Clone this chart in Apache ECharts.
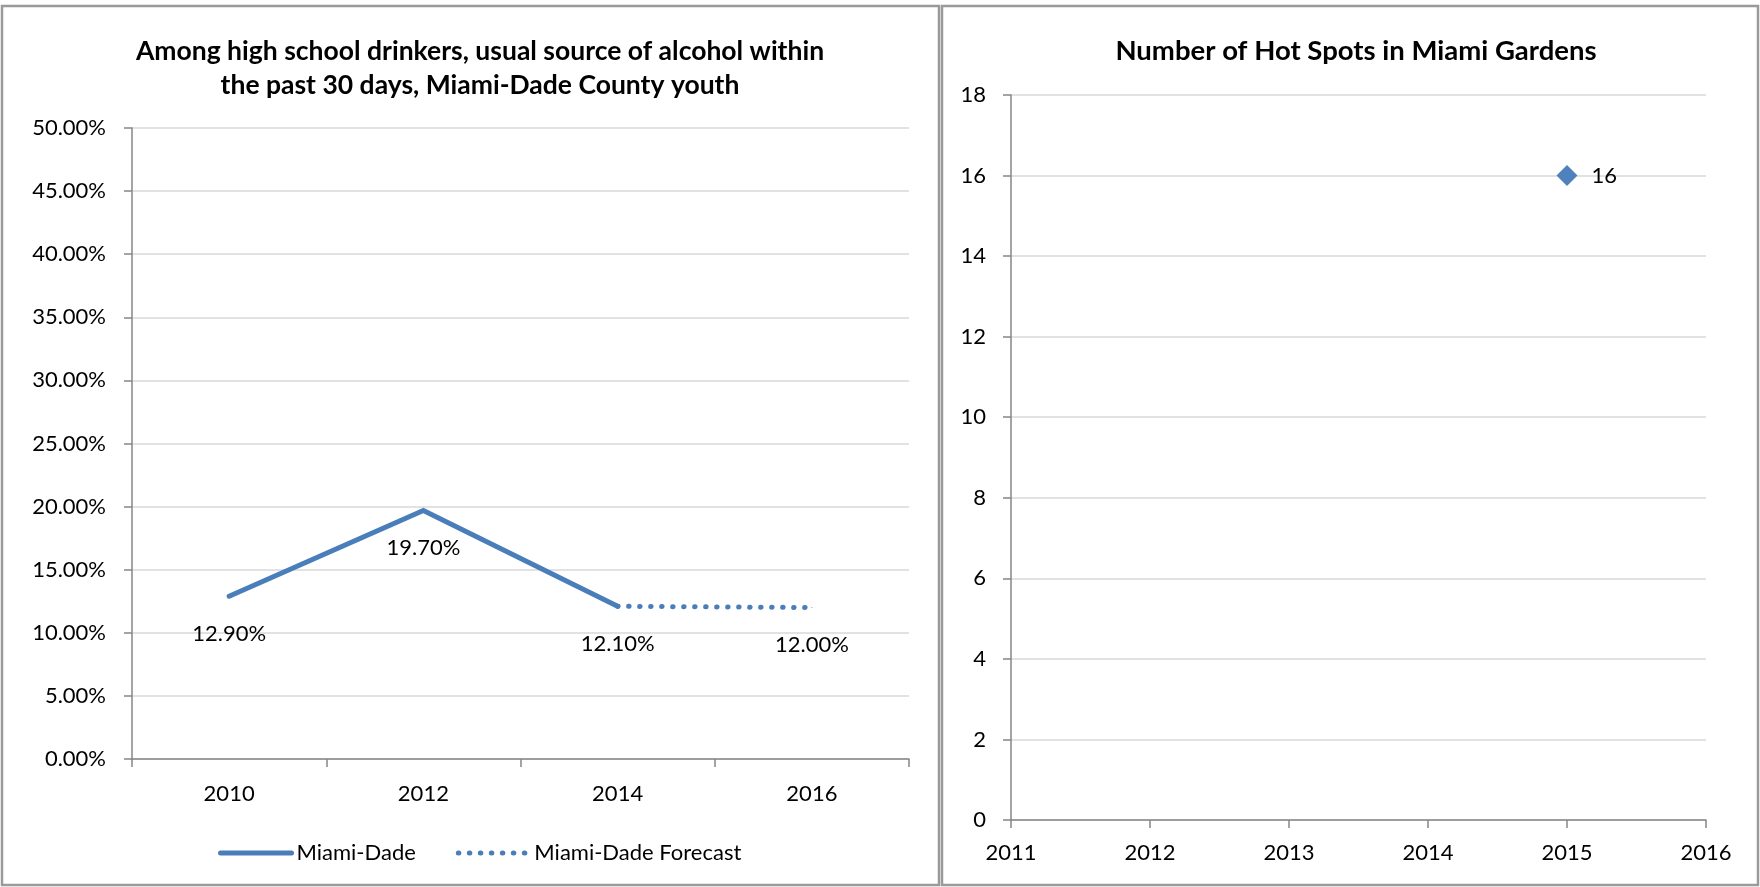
<!DOCTYPE html>
<html>
<head>
<meta charset="utf-8">
<title>Miami-Dade youth alcohol source and Miami Gardens hot spots</title>
<script src="https://cdn.jsdelivr.net/npm/echarts@6/dist/echarts.min.js"></script>
<style>
  html, body { margin: 0; padding: 0; background: #ffffff; }
  #chart { width: 1760px; height: 887px; }
</style>
</head>
<body>
<div id="chart"></div>
<script>
// Left panel: usual source of alcohol (percent of high school drinkers)
const surveyYears = ['2010', '2012', '2014', '2016'];
const miamiDade = [12.9, 19.7, 12.1, null];
const miamiDadeForecast = [null, null, 12.1, 12.0];

// Right panel: hot spot counts by year
const hotSpotYears = [2015];
const hotSpotCounts = [16];

const BLUE = '#4a7ebb';
const AXIS = '#868686';
const GRID = '#d9d9d9';
const FONT = 'Lato, "Liberation Sans", sans-serif';
const LINE_W = 5;

const pct = v => v.toFixed(2) + '%';

const chart = echarts.init(document.getElementById('chart'), null, { renderer: 'canvas' });

const forecastData = miamiDadeForecast.map((v, i) => ({
  value: v,
  // the first forecast point repeats the last actual value, which is already labelled
  label: { show: v !== null && i === miamiDadeForecast.length - 1 }
}));

const hotSpotData = hotSpotYears.map((y, i) => [y, hotSpotCounts[i]]);

chart.setOption({
  animation: false,
  textStyle: { fontFamily: FONT, color: '#000' },
  graphic: [
    { type: 'rect', shape: { x: 2, y: 6, width: 937, height: 879 },
      style: { fill: 'none', stroke: '#9a9a9a', lineWidth: 2.5 }, z: -10 },
    { type: 'rect', shape: { x: 942, y: 6, width: 816, height: 879 },
      style: { fill: 'none', stroke: '#9a9a9a', lineWidth: 2.5 }, z: -10 }
  ],
  title: [
    {
      text: 'Among high school drinkers, usual source of alcohol within\nthe past 30 days, Miami-Dade County youth',
      left: 475, top: 29, textAlign: 'center',
      textStyle: { fontFamily: FONT, fontSize: 26.5, fontWeight: 'bold', lineHeight: 34, color: '#000' }
    },
    {
      text: 'Number of Hot Spots in Miami Gardens',
      left: 1351, top: 29, textAlign: 'center',
      textStyle: { fontFamily: FONT, fontSize: 27.5, fontWeight: 'bold', lineHeight: 34, color: '#000' }
    }
  ],
  legend: {
    left: 213, top: 837,
    itemWidth: 71, itemHeight: 14, itemGap: 40,
    itemStyle: { opacity: 0 },
    lineStyle: { width: LINE_W },
    textStyle: { fontFamily: FONT, fontSize: 22, color: '#000' },
    data: ['Miami-Dade', 'Miami-Dade Forecast']
  },
  grid: [
    { left: 132, top: 128, width: 777, height: 631 },
    { left: 1011, top: 95, width: 695, height: 725 }
  ],
  xAxis: [
    {
      type: 'category', gridIndex: 0, data: surveyYears, boundaryGap: true,
      axisLine: { lineStyle: { color: AXIS, width: 1.5 } },
      axisTick: { show: true, length: 8, lineStyle: { color: AXIS, width: 1.5 } },
      axisLabel: { margin: 24, fontSize: 22, color: '#000', fontFamily: FONT },
      splitLine: { show: false }
    },
    {
      type: 'value', gridIndex: 1, min: 2011, max: 2016, interval: 1,
      axisLine: { onZero: false, lineStyle: { color: AXIS, width: 1.5 } },
      axisTick: { show: true, length: 8, lineStyle: { color: AXIS, width: 1.5 } },
      axisLabel: { margin: 22, fontSize: 22, color: '#000', fontFamily: FONT,
                   formatter: v => String(v) },
      splitLine: { show: false }
    }
  ],
  yAxis: [
    {
      type: 'value', gridIndex: 0, min: 0, max: 50, interval: 5,
      axisLine: { show: true, lineStyle: { color: AXIS, width: 1.5 } },
      axisTick: { show: true, length: 8, lineStyle: { color: AXIS, width: 1.5 } },
      axisLabel: { margin: 26, fontSize: 22, color: '#000', fontFamily: FONT, formatter: pct },
      splitLine: { lineStyle: { color: GRID, width: 1.5 } }
    },
    {
      type: 'value', gridIndex: 1, min: 0, max: 18, interval: 2,
      axisLine: { show: true, onZero: false, lineStyle: { color: AXIS, width: 1.5 } },
      axisTick: { show: true, length: 8, lineStyle: { color: AXIS, width: 1.5 } },
      axisLabel: { margin: 25, fontSize: 22, color: '#000', fontFamily: FONT },
      splitLine: { lineStyle: { color: GRID, width: 1.5 } }
    }
  ],
  series: [
    {
      name: 'Miami-Dade', type: 'line', xAxisIndex: 0, yAxisIndex: 0,
      data: miamiDade,
      symbol: 'circle', symbolSize: 1,
      itemStyle: { color: BLUE },
      lineStyle: { color: BLUE, width: LINE_W, cap: 'round', join: 'miter' },
      label: { show: true, position: 'bottom', distance: 26, formatter: p => pct(p.value),
               fontSize: 22, color: '#000', fontFamily: FONT },
      z: 3
    },
    {
      name: 'Miami-Dade Forecast', type: 'line', xAxisIndex: 0, yAxisIndex: 0,
      data: forecastData,
      symbol: 'circle', symbolSize: 1,
      itemStyle: { color: BLUE },
      lineStyle: { color: BLUE, width: LINE_W, type: [0.5, 10.5], cap: 'round' },
      label: { position: 'bottom', distance: 26, formatter: p => pct(p.value),
               fontSize: 22, color: '#000', fontFamily: FONT },
      z: 2
    },
    {
      name: 'Hot Spots', type: 'scatter', xAxisIndex: 1, yAxisIndex: 1,
      data: hotSpotData,
      symbol: 'diamond', symbolSize: [21, 21],
      itemStyle: { color: '#4f81bd', opacity: 1 },
      label: { show: true, position: 'right', distance: 14, formatter: p => String(p.value[1]),
               fontSize: 22, color: '#000', fontFamily: FONT }
    }
  ]
});
</script>
</body>
</html>
